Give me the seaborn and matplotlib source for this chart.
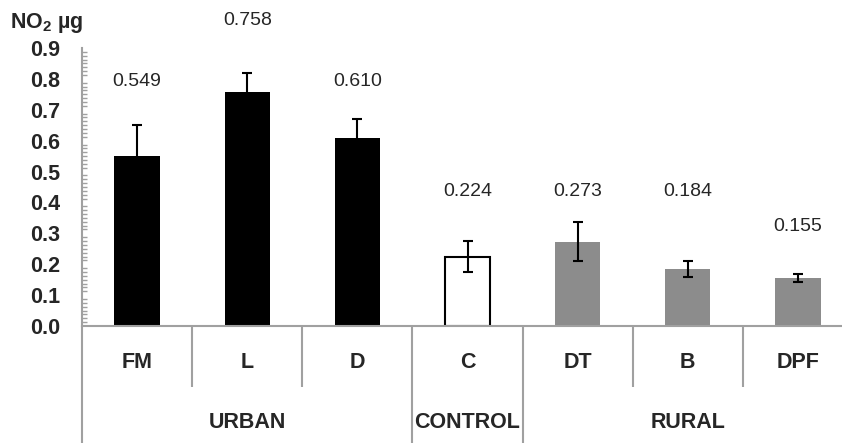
import matplotlib
matplotlib.use("Agg")
import matplotlib.pyplot as plt
import seaborn as sns
import pandas as pd
from matplotlib.ticker import MultipleLocator

sns.set_theme(style="white")
plt.rcParams["font.family"] = ["Liberation Sans", "DejaVu Sans"]
plt.rcParams["mathtext.fontset"] = "custom"
plt.rcParams["mathtext.rm"] = "Liberation Sans:bold"
plt.rcParams["mathtext.bf"] = "Liberation Sans:bold"

# data
sites = ["FM", "L", "D", "C", "DT", "B", "DPF"]
groups = ["URBAN", "URBAN", "URBAN", "CONTROL", "RURAL", "RURAL", "RURAL"]
no2 = [0.549, 0.758, 0.610, 0.224, 0.273, 0.184, 0.155]
err = [0.102, 0.060, 0.061, 0.050, 0.063, 0.025, 0.012]
label_y = [0.79, 0.99, 0.79, 0.436, 0.436, 0.436, 0.322]

group_colors = {"URBAN": "black", "CONTROL": "white", "RURAL": "#8c8c8c"}
axis_gray = "#a0a0a0"
bold_size = 15.5

df = pd.DataFrame({"site": sites, "group": groups, "no2": no2})

fig = plt.figure(figsize=(8.42, 4.43), dpi=100)
ax = fig.add_axes([82 / 842, (443 - 326) / 443, 771 / 842, 278 / 443])

sns.barplot(data=df, x="site", y="no2", hue="site",
            palette=[group_colors[g] for g in groups],
            width=0.41, dodge=False, errorbar=None, legend=False,
            edgecolor="black", linewidth=1.5, ax=ax)
# only the control bar gets a visible outline
for patch, g in zip(ax.patches, groups):
    if g != "CONTROL":
        patch.set_linewidth(0)

ax.errorbar(range(len(sites)), no2, yerr=err, fmt="none",
            ecolor="black", elinewidth=1.5, capsize=3.5, capthick=1.5)

for i, (v, ly) in enumerate(zip(no2, label_y)):
    ax.text(i, ly, f"{v:.3f}", ha="center", va="center", fontsize=14,
            clip_on=False)

ax.set_ylim(0, 0.9)
ax.set_xlim(-0.5, len(sites) - 0.5)
ax.yaxis.set_major_locator(MultipleLocator(0.1))
ax.yaxis.set_minor_locator(MultipleLocator(0.0125))
ax.yaxis.set_major_formatter(plt.FormatStrFormatter("%.1f"))
ax.tick_params(axis="y", which="major", direction="in", length=5, width=1,
               color=axis_gray, pad=16, labelsize=bold_size)
ax.tick_params(axis="y", which="minor", direction="in", length=3.5, width=1,
               color=axis_gray, left=True)
for lab in ax.get_yticklabels():
    lab.set_fontweight("bold")
ax.set_xticks([])
ax.set_xlabel("")
ax.set_ylabel("")

sns.despine(ax=ax, top=True, right=True)
for s in ["left", "bottom"]:
    ax.spines[s].set_color(axis_gray)
    ax.spines[s].set_linewidth(1.5)
ax.spines["left"].set_bounds(0, 0.9)

# category axis: separators and labels below the plot
tr = ax.get_xaxis_transform()
short_y = -(387 - 326) / 278
long_y = -(460 - 326) / 278
for k in range(len(sites) + 1):
    x = k - 0.5
    is_group_edge = k == 0 or k == len(sites) or groups[k] != groups[k - 1]
    y0 = long_y if is_group_edge else short_y
    ax.plot([x, x], [0, y0], transform=tr, color=axis_gray, lw=1.5,
            clip_on=False, solid_capstyle="butt")

for i, s in enumerate(sites):
    ax.text(i, -(363 - 326) / 278, s, transform=tr, ha="center", va="center",
            fontsize=bold_size, fontweight="bold")

start = 0
for k in range(1, len(sites) + 1):
    if k == len(sites) or groups[k] != groups[start]:
        ax.text((start + k - 1) / 2, -(422 - 326) / 278, groups[start],
                transform=tr, ha="center", va="center",
                fontsize=bold_size, fontweight="bold")
        start = k

fig.text(10 / 842, 1 - 28 / 443, r"NO$_2$ µg", fontsize=bold_size,
         fontweight="bold", va="baseline", ha="left")

fig.savefig("out.png", dpi=100)
